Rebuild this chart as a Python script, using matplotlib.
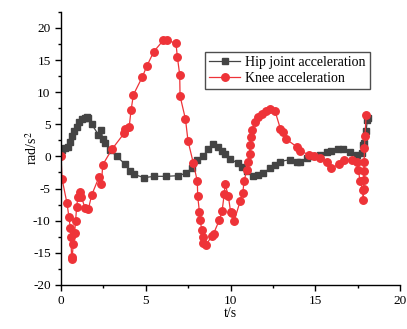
import matplotlib
matplotlib.use("Agg")
import matplotlib.pyplot as plt
from matplotlib.ticker import MultipleLocator

plt.rcParams['font.family'] = ['Liberation Serif', 'DejaVu Serif']
plt.rcParams['axes.unicode_minus'] = False
plt.rcParams['mathtext.fontset'] = 'stix'

# hip joint acceleration (rad/s^2)
hip_t = [0.0, 0.08, 0.24, 0.43, 0.53, 0.67, 0.78, 0.92, 1.06, 1.26, 1.42, 1.51, 1.61,
         1.81, 2.2, 2.38, 2.45, 2.6, 2.89, 3.28, 3.78, 4.07, 4.3, 4.9, 5.5, 6.2, 6.9,
         7.4, 7.7, 8.0, 8.4, 8.69, 8.99, 9.28, 9.5, 9.7, 9.97, 10.46, 10.7, 10.96,
         11.3, 11.64, 11.94, 12.33, 12.6, 12.92, 13.5, 13.9, 14.1, 14.5, 14.88, 15.28,
         15.67, 15.9, 16.36, 16.65, 17.05, 17.44, 17.74, 17.84, 17.9, 17.99, 18.07, 18.12]
hip_a = [0.6, 1.0, 1.3, 1.5, 2.3, 3.1, 3.9, 4.6, 5.4, 5.9, 6.0, 6.2, 6.0,
         5.0, 3.4, 4.1, 2.7, 2.1, 1.0, 0.0, -1.2, -2.2, -2.8, -3.3, -3.1, -3.1, -3.0,
         -2.6, -1.8, -0.6, 0.1, 1.2, 1.9, 1.5, 0.8, 0.3, -0.4, -1.1, -1.6, -2.3,
         -3.0, -2.9, -2.6, -1.8, -1.4, -0.8, -0.5, -0.8, -0.8, -0.3, 0.0, 0.2,
         0.75, 0.8, 1.1, 1.2, 0.7, 0.2, 0.5, 1.8, 2.1, 3.9, 5.7, 6.0]

# knee acceleration (rad/s^2)
knee_t = [0.0, 0.06, 0.35, 0.47, 0.55, 0.58, 0.62, 0.65, 0.72, 0.8, 0.86, 0.92, 1.0,
          1.1, 1.2, 1.42, 1.61, 1.81, 2.24, 2.38, 2.46, 3.0, 3.72, 3.8, 4.02, 4.13,
          4.27, 4.8, 5.05, 5.47, 6.04, 6.23, 6.78, 6.86, 7.0, 7.02, 7.34, 7.49, 7.8,
          8.04, 8.06, 8.16, 8.2, 8.3, 8.36, 8.4, 8.55, 8.89, 9.0, 9.34, 9.5, 9.63,
          9.68, 9.87, 10.0, 10.1, 10.22, 10.56, 10.72, 10.8, 10.96, 11.05, 11.12,
          11.15, 11.2, 11.29, 11.45, 11.64, 11.84, 12.1, 12.33, 12.63, 12.94, 13.08,
          13.28, 13.9, 14.1, 14.65, 14.95, 15.28, 15.67, 15.95, 16.42, 16.7, 17.15,
          17.44, 17.54, 17.64, 17.8, 17.83, 17.85, 17.86, 17.87, 17.88, 17.9, 17.93, 18.0]
knee_a = [0.0, -3.5, -7.3, -9.5, -11.2, -12.5, -15.6, -16.0, -13.6, -11.9, -10.0, -7.8, -6.3,
          -5.6, -6.3, -8.1, -8.2, -6.0, -3.2, -4.3, -1.3, 1.1, 3.6, 4.2, 4.6, 7.2,
          9.6, 12.4, 14.0, 16.3, 18.1, 18.1, 17.6, 15.5, 12.7, 9.4, 5.8, 2.4, -1.0,
          -3.9, -6.1, -8.6, -9.9, -11.4, -12.6, -13.5, -13.8, -12.4, -12.0, -9.9, -8.5, -5.8,
          -4.3, -6.2, -8.6, -8.8, -10.0, -7.0, -5.7, -3.8, -2.1, -0.8, 0.4,
          1.7, 3.0, 4.1, 5.4, 6.2, 6.6, 7.0, 7.4, 7.0, 4.3, 3.8,
          2.7, 1.5, 0.9, 0.2, 0.0, -0.3, -0.8, -1.8, -1.2, -0.5, -0.6,
          -0.8, -2.1, -3.9, -5.2, -6.8, -5.0, -3.7, -2.3, -0.8, 1.3, 3.2, 6.5]

fig = plt.figure(figsize=(4.07, 3.29), dpi=100)
ax = fig.add_axes([0.150, 0.134, 0.833, 0.83])

ax.plot(hip_t, hip_a, color='#444444', lw=0.9, marker='s', ms=4.4,
        label='Hip joint acceleration')
ax.plot(knee_t, knee_a, color='#EE3338', lw=0.9, marker='o', ms=5.4,
        label='Knee acceleration')

ax.set_xlim(0, 20)
ax.set_ylim(-20, 22.5)
ax.xaxis.set_major_locator(MultipleLocator(5))
ax.xaxis.set_minor_locator(MultipleLocator(2.5))
ax.yaxis.set_major_locator(MultipleLocator(5))
ax.yaxis.set_minor_locator(MultipleLocator(2.5))
ax.set_yticks([-20, -15, -10, -5, 0, 5, 10, 15, 20])
ax.tick_params(which='major', direction='out', length=4, width=1, labelsize=9.5)
ax.tick_params(which='minor', direction='out', length=2.5, width=1)
ax.spines['top'].set_visible(False)
ax.spines['right'].set_visible(False)
for s in ['left', 'bottom']:
    ax.spines[s].set_linewidth(1)

ax.set_xlabel('t/s', fontsize=10, va='center')
ax.set_ylabel('rad/s$^2$', fontsize=10, va='center')
ax.xaxis.set_label_coords(0.5, -0.103)
ax.yaxis.set_label_coords(-0.085, 0.5)

leg = ax.legend(loc='upper left', bbox_to_anchor=(0.425, 0.853), fontsize=10,
                frameon=True, fancybox=False, edgecolor='#222222', handlelength=2.2,
                borderpad=0.3, labelspacing=0.2, handletextpad=0.4, borderaxespad=0)
leg.get_frame().set_linewidth(1)

fig.savefig('out.png', dpi=100)
